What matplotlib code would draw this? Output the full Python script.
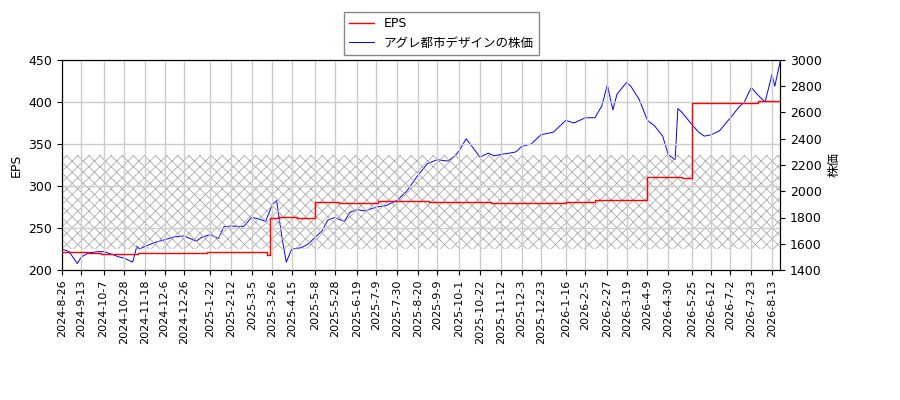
import matplotlib
matplotlib.use("Agg")
import matplotlib.pyplot as plt
import numpy as np
import pandas as pd

plt.rcParams['font.family'] = ['DejaVu Sans', 'Noto Sans CJK JP']
plt.rcParams['hatch.linewidth'] = 0.6
plt.rcParams['hatch.color'] = '#aaaaaa'

tick_labels = ["2024-8-26","2024-9-13","2024-10-7","2024-10-28","2024-11-18","2024-12-6","2024-12-26",
    "2025-1-22","2025-2-12","2025-3-5","2025-3-26","2025-4-15","2025-5-8","2025-5-28","2025-6-19",
    "2025-7-9","2025-7-30","2025-8-20","2025-9-9","2025-10-1","2025-10-22","2025-11-12","2025-12-3",
    "2025-12-23","2026-1-16","2026-2-5","2026-2-27","2026-3-19","2026-4-9","2026-4-30","2026-5-25",
    "2026-6-12","2026-7-2","2026-7-23","2026-8-13"]

price_dates = ["2024-8-26","2024-9-2","2024-9-10","2024-9-13","2024-9-20","2024-10-1","2024-10-7","2024-10-15",
    "2024-10-22","2024-10-28","2024-11-5","2024-11-8","2024-11-12","2024-11-18","2024-11-27","2024-12-6",
    "2024-12-16","2024-12-26","2025-1-8","2025-1-14","2025-1-22","2025-1-30","2025-2-5","2025-2-12",
    "2025-2-25","2025-3-5","2025-3-12","2025-3-19","2025-3-26","2025-3-31","2025-4-4","2025-4-9",
    "2025-4-15","2025-4-24","2025-5-1","2025-5-8","2025-5-15","2025-5-21","2025-5-28","2025-6-6",
    "2025-6-12","2025-6-19","2025-6-27","2025-7-9","2025-7-18","2025-7-30","2025-8-8","2025-8-20",
    "2025-8-29","2025-9-9","2025-9-19","2025-9-26","2025-10-1","2025-10-8","2025-10-15","2025-10-22",
    "2025-10-30","2025-11-5","2025-11-12","2025-11-20","2025-11-27","2025-12-3","2025-12-12","2025-12-23",
    "2026-1-5","2026-1-16","2026-1-26","2026-2-5","2026-2-16","2026-2-22","2026-2-27","2026-3-5",
    "2026-3-10","2026-3-19","2026-3-24","2026-4-1","2026-4-9","2026-4-16","2026-4-24","2026-4-30",
    "2026-5-7","2026-5-11","2026-5-14","2026-5-25","2026-6-1","2026-6-5","2026-6-12","2026-6-22",
    "2026-7-2","2026-7-10","2026-7-16","2026-7-23","2026-7-31","2026-8-6","2026-8-13","2026-8-17","2026-8-21"]
price_values = [1560,1540,1450,1500,1530,1540,1540,1520,1500,1490,1460,1580,1560,1580,1610,1630,
    1650,1660,1620,1650,1670,1640,1730,1735,1730,1800,1790,1770,1900,1930,1640,1460,1560,1570,1600,1650,
    1700,1780,1800,1770,1840,1860,1850,1880,1890,1930,2000,2120,2210,2240,2230,2270,2310,2400,2330,
    2260,2290,2270,2280,2290,2300,2340,2360,2430,2450,2540,2520,2560,2560,2650,2810,2620,2740,2830,2800,
    2700,2540,2500,2420,2280,2240,2630,2600,2510,2450,2420,2430,2460,2560,2640,2680,2790,2720,2680,2890,2800,2990]

eps_dates = ["2024-8-26","2024-9-20","2024-10-3","2024-11-10","2024-12-10","2025-1-20","2025-3-20","2025-3-24",
    "2025-4-1","2025-4-21","2025-5-8","2025-6-2","2025-7-10","2025-9-1","2025-11-3","2026-1-16","2026-2-16",
    "2026-4-7","2026-4-9","2026-5-14","2026-5-25","2026-7-30","2026-8-21"]
eps_values = [221,220,219,220,220,221,218,262,263,262,281,280,282,281,280,281,283,283,311,309,399,401,401]

start = np.datetime64("2024-08-26")
def bd(ds):
    return np.busday_count(start, pd.to_datetime(ds).values.astype('datetime64[D]'))

px = bd(price_dates)
ex = bd(eps_dates)
tx = bd(tick_labels)

fig = plt.figure(figsize=(9, 4), dpi=100)
ax = fig.add_axes([0.069, 0.325, 0.798, 0.525])
ax2 = ax.twinx()

ax.axhspan(225, 337, facecolor='none', edgecolor='#aaaaaa', hatch='xxx', linewidth=0, zorder=0)
l1, = ax.plot(ex, eps_values, color='red', drawstyle='steps-post', linewidth=1, label='EPS', zorder=3)
l2, = ax2.plot(px, price_values, color='blue', linewidth=0.7, label='アグレ都市デザインの株価')

ax.set_ylim(200, 450)
ax2.set_ylim(1400, 3000)
ax.set_xlim(0, px[-1])
ax.set_xticks(tx)
ax.set_xticklabels(tick_labels, rotation=90, fontsize=8)
ax.tick_params(axis='y', labelsize=9)
ax2.tick_params(axis='y', labelsize=9)
ax.grid(True, color='#cccccc', linewidth=1)
ax.set_axisbelow(True)
ax.set_ylabel('EPS', fontsize=9)
ax2.set_ylabel('株価', fontsize=9)
ax.set_zorder(ax2.get_zorder() + 1)
ax.patch.set_visible(False)

fig.legend([l1, l2], ['EPS', 'アグレ都市デザインの株価'], loc='upper center',
           bbox_to_anchor=(0.49, 0.985), fontsize=9, framealpha=1, edgecolor='#888888', fancybox=False)

fig.savefig('out.png', dpi=100)
